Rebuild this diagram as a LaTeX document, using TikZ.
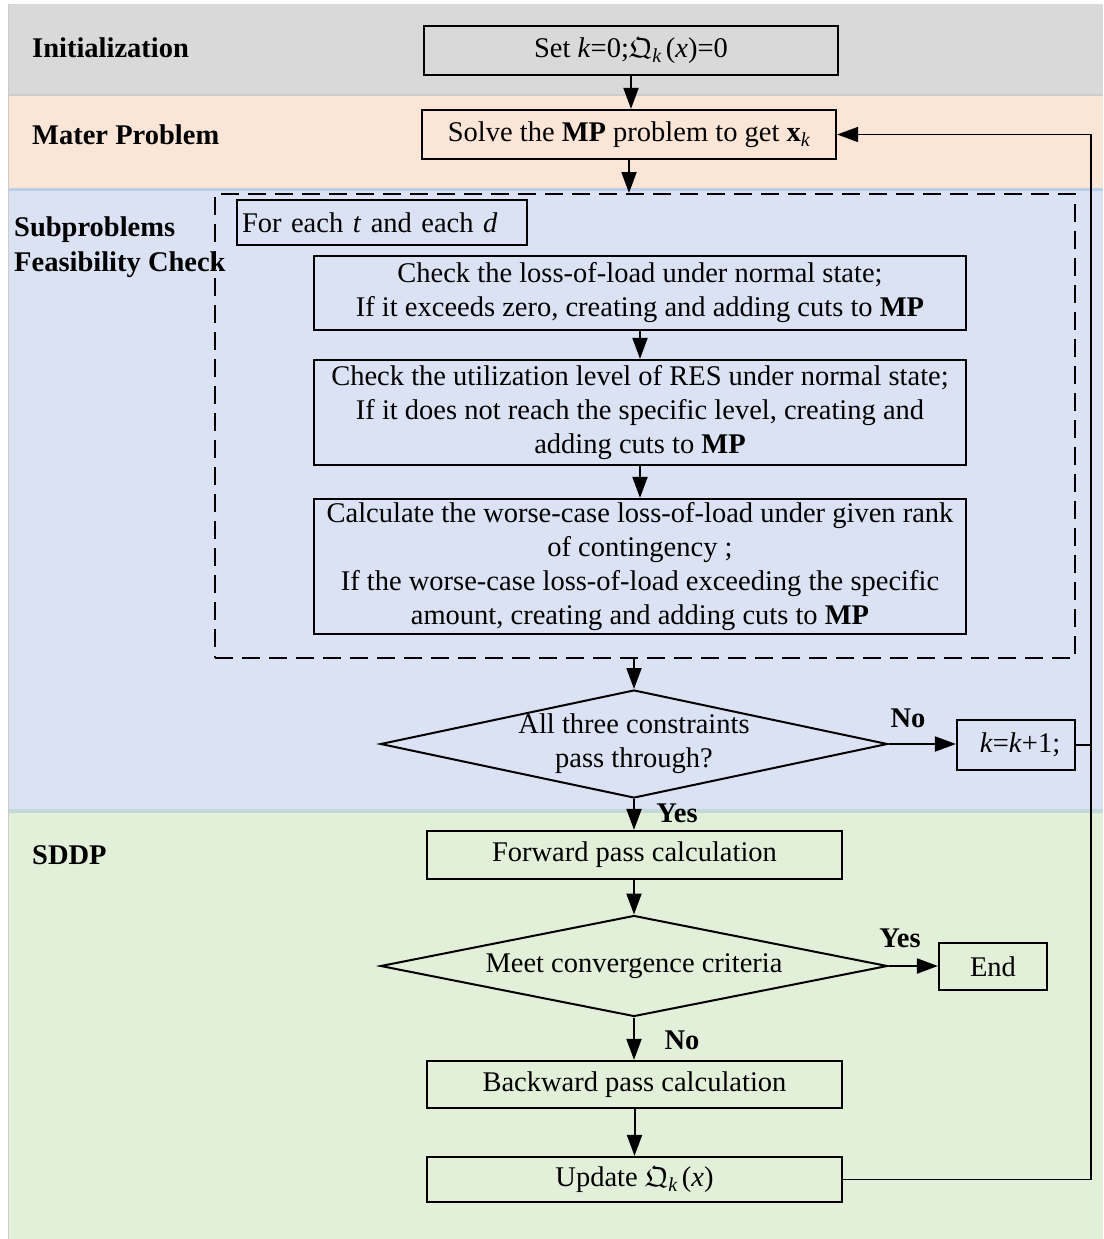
\documentclass[tikz,border=0pt]{standalone}
\usepackage{fontspec}
\usepackage{amsmath,amssymb}
\setmainfont{Liberation Serif}
\usetikzlibrary{arrows.meta,shapes.geometric}

\definecolor{bandgray}{HTML}{D9D9D9}
\definecolor{bandpeach}{HTML}{FBE5D6}
\definecolor{bandblue}{HTML}{DAE2F3}
\definecolor{bandgreen}{HTML}{E2EFD9}
\definecolor{edgegray}{HTML}{CCCCCC}
\definecolor{edgeblue}{HTML}{BCCFEA}
\definecolor{edgeteal}{HTML}{C3D9D8}

\begin{document}
\begin{tikzpicture}[x=1pt,y=-1pt,
  every node/.style={font=\fontsize{28.5}{34}\selectfont, inner sep=0pt},
  procbox/.style={draw, line width=2.2pt, align=center},
  decision/.style={diamond, draw, line width=2pt},
  sect/.style={anchor=base west, font=\fontsize{28.5}{34}\selectfont\bfseries},
  lbl/.style={font=\fontsize{28.5}{34}\selectfont\bfseries},
  arr/.style={line width=2pt, -{Triangle[length=21pt,width=15pt]}},
  rail/.style={line width=1.5pt},
]
\useasboundingbox (0,0) rectangle (1103,1239);

% stage bands
\fill[bandgray]  (8,4)   rectangle (1103,95);
\fill[bandpeach] (8,95)  rectangle (1103,188);
\fill[bandblue]  (8,188) rectangle (1103,810);
\fill[bandgreen] (8,810) rectangle (1103,1239);
\draw[edgegray, line width=2pt] (8,95) -- (1103,95);
\draw[edgeblue, line width=3pt] (8,189) -- (1103,189);
\draw[edgeteal, line width=4pt] (8,811) -- (1103,811);
\draw[edgegray, line width=1.5pt] (8.5,4) -- (8.5,1239);

% stage titles
\node[sect] (tinit) at (32,58) {Initialization};
\node[sect] (tmp) at (32,144) {Mater Problem};
\node[sect] (tsub) at (14,236) {Subproblems};
\node[sect] (tfeas) at (14,271) {Feasibility Check};
\node[sect] (tsddp) at (32,864) {SDDP};

% initialization and master problem
\node[procbox, minimum width=414pt, minimum height=49pt] (init) at (631,50.5)
  {Set \textit{k}=0;$\mathfrak{Q}_{\textit{k}}\,$(\textit{x})=0};
\node[procbox, minimum width=414pt, minimum height=49pt] (mp) at (629,134.5)
  {Solve the \textbf{MP} problem to get \textbf{x}$_{\textit{k}}$};

% subproblem feasibility checks
\node[draw, line width=2pt, dash pattern=on 18pt off 9pt,
      minimum width=860pt, minimum height=464pt] (group) at (645,426) {};
\node[procbox, align=left, minimum width=290pt, minimum height=45pt, text width=280pt] (each) at (382,222.5)
  {For each \textit{t} and each \textit{d}};
\node[procbox, minimum width=652pt, minimum height=74pt] (chk1) at (640,293)
  {Check the loss-of-load under normal state;\\If it exceeds zero, creating and adding cuts to \textbf{MP}};
\node[procbox, minimum width=652pt, minimum height=105pt] (chk2) at (640,412.5)
  {Check the utilization level of RES under normal state;\\If it does not reach the specific level, creating and\\adding cuts to \textbf{MP}};
\node[procbox, minimum width=652pt, minimum height=135pt] (calc) at (640,566.5)
  {Calculate the worse-case loss-of-load under given rank\\of contingency ;\\If the worse-case loss-of-load exceeding the specific\\amount, creating and adding cuts to \textbf{MP}};

\node[decision, minimum width=507pt, minimum height=108pt] (dia1) at (634,744) {};
\node[align=center] (dia1txt) at (634,744) {All three constraints\\pass through?};
\node[procbox, minimum width=118pt, minimum height=50pt] (kbox) at (1016,745)
  {\hspace{8pt}\textit{k}=\textit{k}+1;};

% SDDP stage
\node[procbox, minimum width=415pt, minimum height=48pt] (fwd) at (634.5,855) {Forward pass calculation};
\node[decision, minimum width=507pt, minimum height=101pt] (dia2) at (634,966) {};
\node (dia2txt) at (634,966) {Meet convergence criteria};
\node[procbox, minimum width=108pt, minimum height=47pt] (end) at (993,966.5) {End};
\node[procbox, minimum width=415pt, minimum height=47pt] (bwd) at (634.5,1084.5) {Backward pass calculation};
\node[procbox, minimum width=415pt, minimum height=45pt] (upd) at (634.5,1179.5)
  {Update $\mathfrak{Q}_{\textit{k}}\,$(\textit{x})};

% branch labels
\node[lbl] (no1) at (908,718) {No};
\node[lbl] (yes1) at (677,813) {Yes};
\node[lbl] (yes2) at (900,938) {Yes};
\node[lbl] (no2) at (682,1040) {No};

% flow
\coordinate (railx) at (1091,0);
\draw[arr] (init.south) -- (init.south |- mp.north);
\draw[arr] (mp.south) -- (mp.south |- group.north);
\draw[arr] (chk1.south) -- (chk2.north);
\draw[arr] (chk2.south) -- (calc.north);
\draw[arr] (dia1.north |- group.south) -- (dia1.north);
\draw[arr] (dia1.east) -- (dia1.east -| kbox.west);
\draw[arr] (dia1.south) -- (dia1.south |- fwd.north);
\draw[arr] (dia2.north |- fwd.south) -- (dia2.north);
\draw[arr] (dia2.east) -- (dia2.east -| end.west);
\draw[arr] (dia2.south) -- (dia2.south |- bwd.north);
\draw[arr] (bwd.south) -- (upd.north);
\draw[rail] (kbox.east) -- (kbox.east -| railx);
\draw[rail, -{Triangle[length=21pt,width=15pt]}]
  (upd.east) -- (upd.east -| railx) -- (mp.east -| railx) -- (mp.east);
\end{tikzpicture}
\end{document}
